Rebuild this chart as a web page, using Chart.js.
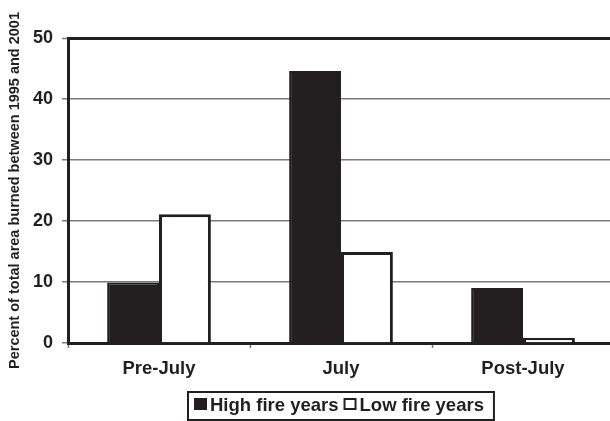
<!DOCTYPE html>
<html>
<head>
<meta charset="utf-8">
<script src="https://cdn.jsdelivr.net/npm/chart.js@4.4.1/dist/chart.umd.min.js"></script>
<style>
html,body{margin:0;padding:0;background:#fff;overflow:hidden;width:610px;height:421px;}
#wrap{width:616px;height:421px;position:relative;}
</style>
</head>
<body>
<div id="wrap"><canvas id="c"></canvas></div>
<script>
const categories = ['Pre-July', 'July', 'Post-July'];
const highFire = [9.9, 44.6, 9.0];
const lowFire = [21.1, 14.9, 0.8];
const yTicks = [0, 10, 20, 30, 40, 50];
const yTitle = 'Percent of total area burned between 1995 and 2001';
const seriesLabels = ['High fire years', 'Low fire years'];

const DARK = '#231f20';
const GRID = '#7a7a7a';
const FONT = '"Liberation Sans", Arial, sans-serif';

const boxedLegend = {
  id: 'boxedLegend',
  afterDraw(chart) {
    const ctx = chart.ctx;
    const ca = chart.chartArea;
    const ds = chart.data.datasets;
    ctx.save();
    ctx.font = 'bold 18.5px ' + FONT;
    ctx.textBaseline = 'alphabetic';
    const sq = 13, gapText = 3, gapItem = 5, padL = 6, padR = 10;
    const widths = ds.map(d => ctx.measureText(d.label).width);
    let total = padL + padR;
    widths.forEach((w, i) => { total += sq + gapText + w + (i < ds.length - 1 ? gapItem : 0); });
    const top = 392, h = 28;
    const left = Math.round((ca.left + ca.right) / 2 - total / 2);
    ctx.lineWidth = 2;
    ctx.strokeStyle = DARK;
    ctx.strokeRect(left, top, total, h);
    let x = left + padL;
    ds.forEach((d, i) => {
      const sy = 398;
      if (d.backgroundColor === '#ffffff') {
        ctx.fillStyle = '#fff';
        ctx.fillRect(x, sy, sq, sq - 1);
        ctx.lineWidth = 2;
        ctx.strokeStyle = DARK;
        ctx.strokeRect(x + 1, sy + 1, sq - 2, sq - 3);
      } else {
        ctx.fillStyle = DARK;
        ctx.fillRect(x, sy, sq, sq - 1);
      }
      x += sq + gapText;
      ctx.fillStyle = DARK;
      ctx.fillText(d.label, x, 411);
      x += widths[i] + gapItem;
    });
    ctx.restore();
  }
};

new Chart(document.getElementById('c'), {
  type: 'bar',
  data: {
    labels: categories,
    datasets: [
      { label: seriesLabels[0], data: highFire, backgroundColor: DARK, borderColor: DARK, borderWidth: 2,
        barPercentage: 1, categoryPercentage: 0.57 },
      { label: seriesLabels[1], data: lowFire, backgroundColor: '#ffffff', borderColor: DARK, borderWidth: 3,
        barPercentage: 1, categoryPercentage: 0.57 }
    ]
  },
  options: {
    responsive: true,
    maintainAspectRatio: false,
    animation: false,
    devicePixelRatio: 1,
    layout: { padding: { left: 0, top: 38, right: 2, bottom: 0 } },
    plugins: {
      legend: { display: false },
      tooltip: { enabled: false }
    },
    scales: {
      x: {
        afterFit(s) { s.height = 78; },
        grid: { drawOnChartArea: false, drawTicks: true, tickLength: 5, tickColor: GRID, tickWidth: 1.5 },
        border: { color: DARK, width: 3 },
        ticks: { color: DARK, font: { family: FONT, size: 18.5, weight: 'bold' }, padding: 10 }
      },
      y: {
        min: 0, max: 50,
        afterFit(s) { s.width = 68; },
        afterBuildTicks(s) { s.ticks = yTicks.map(v => ({ value: v })); },
        grid: {
          color: c => (c.tick && c.tick.value === 50) ? DARK : GRID,
          lineWidth: c => (c.tick && c.tick.value === 50) ? 3 : 1.5,
          tickLength: 6,
          tickColor: GRID,
          tickWidth: 1.5
        },
        border: { color: DARK, width: 3 },
        ticks: { color: DARK, font: { family: FONT, size: 18, weight: 'bold' }, padding: 9 },
        title: { display: true, text: yTitle, color: DARK, font: { family: FONT, size: 14.5, weight: 'bold' }, padding: { top: 6, bottom: 0 } }
      }
    }
  },
  plugins: [boxedLegend]
});
</script>
</body>
</html>
